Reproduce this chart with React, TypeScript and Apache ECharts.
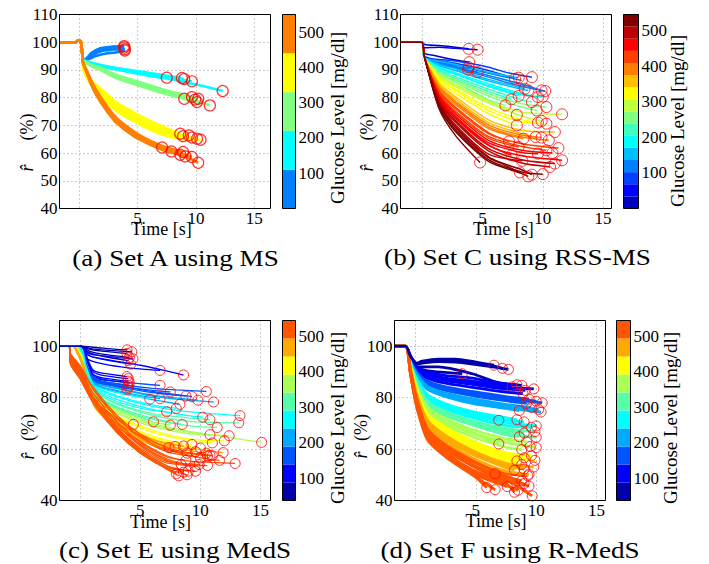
import React, { useEffect, useRef } from 'react';
import * as echarts from 'echarts';

type Pt = [number, number];
const FONT = '"Liberation Serif", "Times New Roman", Times, serif';

// ---------------- tick labels ----------------
const timeTicks = [5, 10, 15];
const rTicksTop = [40, 50, 60, 70, 80, 90, 100, 110];
const rTicksBottom = [40, 60, 80, 100];
const glucoseTicks = [100, 200, 300, 400, 500];

// ---------------- colour maps ----------------
const colorsA = ['#0080ff', '#00ffff', '#80ff80', '#ffff00', '#ff8000'];
const colorsB = ['#0000bf', '#0000ff', '#0040ff', '#0080ff', '#00bfff', '#00ffff', '#40ffbf', '#80ff80', '#bfff40', '#ffff00', '#ffbf00', '#ff8000', '#ff4000', '#ff0000', '#bf0000', '#800000'];
const colorsCD = ['#0000aa', '#0000ff', '#0055ff', '#00aaff', '#00ffff', '#55ffaa', '#aaff55', '#ffff00', '#ffaa00', '#ff5500'];

const cbRangeA: Pt = [0, 550];
const cbRangeB: Pt = [0, 545];
const cbRangeC: Pt = [37, 544];
const cbRangeD: Pt = [37, 544];

const xRangeA: Pt = [-1.7, 16.4];
const xRangeB: Pt = [-1.8, 15.7];
const xRangeC: Pt = [-1.72, 15.84];
const xRangeD: Pt = [-1.74, 15.74];

// ---------------- (a) Set A using MS ----------------
const prefixA: Pt[] = [[-1.7, 100], [-0.3, 100], [-0.1, 100.6], [0.12, 100.3], [0.25, 96]];
const glucoseA = [60, 80, 95, 70, 150, 170, 190, 130, 200, 250, 270, 290, 300, 310, 240, 350, 370, 390, 410, 420, 430, 460, 480, 500, 510, 520, 530, 540];
const curvesA: Pt[][] = [
  [[0.3, 93.8], [0.5, 93.6], [1.0, 96.0], [1.8, 97.8], [2.8, 98.4], [3.85, 98.6]],
  [[0.3, 93.8], [0.6, 93.8], [1.2, 95.6], [2.0, 96.9], [3.0, 97.4], [3.9, 97.5]],
  [[0.3, 93.8], [0.55, 94.0], [0.9, 95.3], [1.6, 96.9], [2.6, 97.8], [3.85, 98.1]],
  [[0.3, 93.8], [0.6, 93.7], [1.4, 95.0], [2.4, 96.0], [3.1, 96.3], [3.9, 97.0]],
  [[0.3, 93.8], [1.8, 91.8], [4.66, 89.6], [6.1, 88.6], [7.5, 87.2], [8.94, 85.6], [10.4, 84.4], [12.3, 82.4]],
  [[0.3, 93.8], [1.8, 91.5], [4.6, 89.3], [6.1, 88.3], [7.5, 87.2]],
  [[0.3, 93.8], [1.8, 91.6], [4.6, 89.8], [6.5, 88.6], [8.8, 87.1]],
  [[0.3, 93.8], [1.8, 91.3], [4.6, 89.2], [6.5, 88.0], [9.0, 86.7]],
  [[0.3, 93.8], [1.8, 91.4], [4.6, 89.0], [7.0, 87.2], [9.66, 85.9]],
  [[0.3, 93.5], [1.2, 91.4], [1.8, 90.5], [3.2, 87.7], [4.7, 85.6], [6.1, 83.8], [7.5, 82.0], [9.0, 79.6]],
  [[0.3, 93.5], [1.2, 91.6], [1.8, 90.8], [3.2, 88.2], [4.7, 86.2], [6.1, 84.4], [7.5, 82.6], [9.0, 81.0], [9.66, 80.2]],
  [[0.3, 93.5], [1.2, 91.2], [1.8, 90.2], [3.2, 87.3], [4.7, 85.2], [6.1, 83.3], [7.5, 81.6], [9.0, 80.0], [9.94, 79.3]],
  [[0.3, 93.5], [1.2, 91.0], [1.8, 90.0], [3.2, 87.0], [4.7, 84.9], [6.1, 83.0], [7.5, 81.2], [9.0, 79.6], [10.1, 78.4]],
  [[0.3, 93.5], [1.2, 91.3], [1.8, 90.4], [3.2, 87.6], [4.7, 85.5], [6.1, 83.6], [7.5, 81.8], [9.0, 80.0], [10.2, 78.6], [11.2, 77.2]],
  [[0.3, 93.5], [1.2, 91.5], [1.8, 90.7], [3.2, 88.0], [4.7, 86.0], [6.1, 84.2], [7.5, 82.3], [9.0, 80.6], [10.2, 79.6]],
  [[0.3, 92.5], [0.4, 90.5], [0.94, 86.6], [1.8, 83.4], [3.2, 78.2], [4.7, 74.6], [6.1, 71.6], [7.5, 69.0], [8.66, 67.0]],
  [[0.3, 92.5], [0.4, 90.5], [0.94, 86.2], [1.8, 82.6], [3.2, 77.2], [4.7, 73.6], [6.1, 70.6], [7.5, 68.2], [8.9, 66.1]],
  [[0.3, 92.5], [0.4, 90.0], [0.94, 85.8], [1.8, 82.0], [3.2, 76.4], [4.7, 72.8], [6.1, 69.8], [7.5, 67.4], [8.6, 66.4], [9.4, 66.4]],
  [[0.3, 92.5], [0.4, 90.0], [0.94, 85.5], [1.8, 81.6], [3.2, 76.0], [4.7, 72.3], [6.1, 69.2], [7.5, 67.0], [8.8, 65.8], [9.66, 65.6]],
  [[0.3, 92.5], [0.4, 90.0], [0.94, 85.3], [1.8, 81.2], [3.2, 75.6], [4.7, 71.8], [6.1, 68.8], [7.5, 66.6], [9.0, 65.4], [10.1, 65.2]],
  [[0.3, 92.5], [0.4, 89.6], [0.94, 85.0], [1.8, 80.8], [3.2, 75.2], [4.7, 71.4], [6.1, 68.4], [7.5, 66.2], [9.2, 64.9], [10.4, 64.8]],
  [[0.3, 93], [0.66, 89.6], [1.23, 84.4], [1.8, 80.4], [2.5, 76.2], [3.2, 72.6], [4.7, 67.8], [6.1, 64.2], [7.1, 62.0]],
  [[0.3, 93], [0.66, 89.2], [1.23, 83.8], [1.8, 79.6], [2.5, 75.4], [3.2, 71.8], [4.7, 67.0], [6.1, 64.0], [7.9, 60.6]],
  [[0.3, 93], [0.66, 89.0], [1.23, 83.4], [1.8, 79.2], [2.5, 75.0], [3.2, 71.4], [4.7, 66.6], [6.1, 63.6], [7.5, 61.2], [8.66, 59.4]],
  [[0.3, 93], [0.66, 89.4], [1.23, 84.0], [1.8, 80.0], [2.5, 75.8], [3.2, 72.2], [4.7, 67.4], [6.1, 64.4], [7.5, 62.0], [8.9, 60.4]],
  [[0.3, 93], [0.66, 88.8], [1.23, 83.2], [1.8, 79.0], [2.5, 74.8], [3.2, 71.2], [4.7, 66.4], [6.1, 63.4], [7.5, 61.0], [9.1, 58.8]],
  [[0.3, 93], [0.66, 88.8], [1.23, 83.0], [1.8, 78.8], [2.5, 74.6], [3.2, 71.0], [4.7, 66.2], [6.1, 63.2], [7.5, 60.8], [8.9, 59.6], [9.66, 58.6]],
  [[0.3, 93], [0.66, 88.6], [1.23, 82.8], [1.8, 78.6], [2.5, 74.4], [3.2, 70.8], [4.7, 66.0], [6.1, 63.0], [7.5, 60.6], [8.94, 59.0], [10.2, 56.5]],
];

// ---------------- (b) Set C using RSS-MS ----------------
const prefixB: Pt[] = [[-1.8, 100], [-0.2, 100], [0, 100]];
const glucoseB = [20, 45, 30, 50, 60, 75, 80, 95, 110, 120, 130, 150, 160, 180, 200, 215, 230, 250, 265, 240, 285, 300, 278, 320, 335, 355, 370, 390, 400, 412, 420, 435, 440, 455, 460, 470, 490, 500, 510, 520, 535, 525, 140, 195, 310, 380, 445, 480, 540];
const curvesB: Pt[][] = [
  [[0.2, 99.2], [1.4, 98.8], [2.75, 98.2], [3.86, 97.6]],
  [[0.2, 98], [1.4, 98.2], [2.75, 97.8], [4.6, 97.3]],
  [[0.2, 96], [1.0, 95.2], [2.0, 94.2], [3.0, 93.4], [3.9, 92.8]],
  [[0.2, 95], [1.0, 93.8], [2.0, 92.5], [3.0, 91.6], [3.86, 91.0]],
  [[0.2, 94.5], [1.0, 93.0], [2.0, 91.6], [3.0, 90.8], [3.8, 90.1]],
  [[0.2, 94.5], [1.2, 93.0], [2.5, 91.4], [3.6, 90.0], [4.6, 89.2]],
  [[0.2, 94.5], [1.4, 93.8], [2.75, 93.2], [5.5, 91.0], [6.9, 89.2], [8.26, 88.0], [9.1, 87.4]],
  [[0.2, 94.5], [1.4, 93.4], [2.75, 92.4], [5.5, 89.8], [7.7, 86.8]],
  [[0.2, 94.5], [1.4, 93.0], [2.75, 91.8], [5.5, 88.8], [8.26, 86.2]],
  [[0.2, 94.5], [1.4, 92.6], [2.75, 91.2], [5.5, 88.0], [8.26, 84.8], [9.9, 82.6]],
  [[0.2, 94.5], [1.4, 92.4], [2.75, 90.8], [5.5, 87.4], [8.26, 84.0], [10.2, 82.4]],
  [[0.2, 94.5], [1.4, 92.0], [2.75, 90.4], [5.5, 86.6], [8.26, 83.6], [8.5, 83.2]],
  [[0.2, 94.5], [1.4, 91.6], [2.75, 89.8], [5.5, 86.0], [8.26, 83.0], [8.8, 82.6]],
  [[0.2, 94.5], [1.4, 91.0], [2.75, 89.0], [5.5, 85.0], [8.26, 81.4], [9.6, 80.2]],
  [[0.2, 94.5], [1.4, 90.6], [2.75, 88.4], [5.5, 84.0], [7.0, 82.0], [8.0, 80.6]],
  [[0.2, 94.5], [1.4, 90.0], [2.75, 87.6], [5.5, 83.0], [8.26, 79.2], [9.1, 78.4]],
  [[0.2, 94.5], [1.4, 89.6], [2.75, 87.0], [5.5, 82.2], [7.4, 79.4]],
  [[0.2, 94.5], [1.4, 89.0], [2.75, 86.2], [5.5, 80.6], [8.26, 76.6], [9.5, 75.4]],
  [[0.2, 94.5], [1.4, 88.6], [2.75, 85.6], [5.5, 79.2], [6.9, 77.2]],
  [[0.2, 94.5], [1.4, 89.2], [2.75, 86.6], [5.5, 81.4], [8.26, 77.8], [10.3, 76.6]],
  [[0.2, 94.5], [1.4, 88.0], [2.75, 84.6], [5.5, 78.6], [8.26, 74.8], [10.0, 74.2], [11.6, 74.0]],
  [[0.2, 94.5], [1.4, 87.6], [2.75, 84.0], [5.5, 78.0], [8.26, 73.4], [9.9, 71.6]],
  [[0.2, 94.5], [1.4, 88.2], [2.75, 84.8], [5.5, 78.8], [7.85, 73.8]],
  [[0.2, 94.5], [1.4, 86.6], [2.75, 82.6], [5.5, 75.4], [8.26, 71.2], [10.3, 70.6]],
  [[0.2, 94.5], [1.4, 86.0], [2.75, 81.6], [5.5, 74.2], [7.85, 70.0]],
  [[0.2, 94.5], [1.4, 85.2], [2.75, 80.4], [5.5, 72.0], [8.26, 68.2], [11.0, 67.6]],
  [[0.2, 94.5], [1.4, 84.6], [2.75, 79.6], [5.5, 71.0], [8.26, 67.0], [9.4, 65.8]],
  [[0.2, 94.5], [1.4, 83.6], [2.75, 78.2], [5.5, 69.4], [8.26, 65.8], [10.5, 64.6]],
  [[0.2, 94.5], [1.4, 83.0], [2.75, 77.6], [5.5, 68.8], [8.4, 65.2]],
  [[0.2, 94.5], [1.4, 82.4], [2.75, 76.6], [5.5, 67.4], [7.2, 64.2]],
  [[0.2, 94.5], [1.4, 82.0], [2.75, 76.0], [5.5, 67.0], [8.26, 63.4], [11.3, 61.8]],
  [[0.2, 94.5], [1.4, 81.4], [2.75, 75.2], [5.5, 66.0], [8.26, 62.4], [10.3, 61.0]],
  [[0.2, 94.5], [1.4, 81.2], [2.75, 74.8], [5.5, 65.4], [8.0, 62.2]],
  [[0.2, 94.5], [1.4, 80.4], [2.75, 73.4], [5.5, 63.8], [8.26, 60.2], [9.6, 59.8]],
  [[0.2, 94.5], [1.4, 80.2], [2.75, 73.0], [5.5, 63.0], [7.4, 59.2]],
  [[0.2, 94.5], [1.4, 79.8], [2.75, 72.6], [5.5, 62.8], [8.26, 59.0], [11.6, 57.4]],
  [[0.2, 94.5], [1.4, 78.8], [2.75, 71.2], [5.5, 60.8], [8.26, 56.4], [10.6, 55.0]],
  [[0.2, 94.5], [1.4, 78.2], [2.75, 70.2], [5.5, 59.6], [8.3, 57.2]],
  [[0.2, 94.5], [1.4, 78.0], [2.75, 69.8], [5.5, 58.6], [7.0, 55.4], [8.1, 53.0]],
  [[0.2, 94.5], [1.4, 77.6], [2.75, 69.2], [5.5, 58.4], [8.26, 54.0], [9.1, 52.2]],
  [[0.2, 94.5], [1.4, 77.0], [2.75, 68.4], [5.5, 57.6], [8.26, 53.2], [10.0, 52.4]],
  [[0.2, 94.5], [1.4, 76.0], [2.75, 66.4], [4.8, 56.6]],
  [[0.2, 94.5], [1.4, 93.2], [2.75, 92.0], [5.5, 89.2], [8.0, 87.2]],
  [[0.2, 94.5], [1.4, 90.8], [2.75, 88.6], [5.5, 84.4], [8.26, 81.0], [10.0, 80.4]],
  [[0.2, 94.5], [1.4, 87.2], [2.75, 83.2], [5.5, 76.4], [8.26, 72.0], [9.6, 71.0]],
  [[0.2, 94.5], [1.4, 84.0], [2.75, 78.8], [5.5, 70.2], [8.26, 66.4], [9.9, 65.6]],
  [[0.2, 94.5], [1.4, 80.8], [2.75, 74.2], [5.5, 64.6], [8.26, 61.0], [10.8, 60.0]],
  [[0.2, 94.5], [1.4, 79.2], [2.75, 71.8], [5.5, 61.6], [8.26, 57.6], [11.0, 56.2]],
  [[0.2, 94.5], [1.4, 76.6], [2.75, 67.8], [5.5, 57.0], [8.26, 52.6], [8.8, 51.6]],
];

// ---------------- (c) Set E using MedS ----------------
const prefixC: Pt[] = [[-1.72, 100], [-1.0, 100]];
const glucoseC = [50, 60, 70, 80, 95, 100, 110, 130, 150, 160, 120, 145, 170, 180, 200, 220, 230, 260, 270, 285, 310, 320, 335, 360, 380, 350, 410, 430, 420, 460, 480, 455, 470, 490, 500, 510, 520, 530, 505, 515, 525, 498,
  105, 125, 140, 165, 175, 195, 250, 300, 340, 370, 400, 440, 450, 465, 475, 495, 508, 512, 518, 522, 528, 535, 502, 240, 90, 60];
const curvesC: Pt[][] = [
  [[0, 100], [1.5, 99.4], [3.0, 98.8], [3.9, 98.6]],
  [[0, 100], [0.8, 98.8], [2.0, 98.0], [3.9, 97.2]],
  [[0, 100], [0.8, 98.0], [2.0, 96.8], [4.1, 95.6]],
  [[0, 100], [0.8, 97.4], [2.0, 96.0], [4.0, 94.4]],
  [[0, 100], [0.8, 97.0], [2.0, 96.2], [3.2, 95.6], [4.4, 95.1]],
  [[0, 100], [0.6, 96.6], [2.0, 95.0], [5.0, 92.6], [7.0, 90.6], [8.6, 88.8]],
  [[0.1, 100], [0.7, 94], [1.1, 90.6], [2.0, 89.4], [3.9, 88.2]],
  [[0.1, 100], [0.7, 93], [1.1, 89.0], [2.0, 87.6], [4.0, 86.4]],
  [[0, 100], [0.6, 92], [1.1, 87.6], [2.0, 86.2], [4.0, 84.8]],
  [[0, 100], [0.6, 91], [1.1, 86.2], [2.5, 85.0], [3.9, 83.2]],
  [[0, 100], [0.6, 95], [2.0, 93.0], [4.0, 91.6], [6.65, 90.6]],
  [[0, 100], [0.6, 92], [1.2, 87.6], [3.0, 86.4], [5.5, 85.2], [6.65, 84.8]],
  [[0, 100], [0.6, 91], [1.2, 87.0], [3.0, 85.4], [6.0, 83.6], [8.0, 83.0], [10.5, 82.4]],
  [[0, 100], [0.6, 91], [1.2, 86.6], [3.0, 85.0], [6.0, 82.4], [9.3, 80.4]],
  [[0, 100], [0.6, 90], [1.2, 85.6], [3.0, 83.6], [6.0, 80.6], [8.5, 79.2], [11.1, 78.3]],
  [[0, 100], [0.6, 89.5], [1.2, 85.0], [3.0, 82.4], [6.0, 79.2], [8.3, 77.4]],
  [[0, 100], [0.6, 89.5], [1.2, 85.2], [3.0, 82.8], [5.0, 80.8], [6.65, 79.6]],
  [[-0.2, 100], [0.5, 92], [1.2, 84.0], [3.0, 80.4], [6.0, 76.6], [9.0, 74.6], [13.3, 73.0]],
  [[-0.2, 100], [0.5, 92], [1.2, 83.6], [3.0, 79.4], [6.0, 75.4], [9.0, 73.0], [10.2, 72.4]],
  [[-0.2, 100], [0.5, 92], [1.2, 83.2], [3.0, 78.6], [5.5, 75.4], [7.2, 74.5]],
  [[-0.3, 100], [0.4, 93], [1.2, 82.6], [3.0, 77.6], [6.0, 73.2], [9.0, 70.8], [13.2, 70.2]],
  [[-0.3, 100], [0.4, 93], [1.2, 82.0], [3.0, 76.6], [6.0, 72.0], [8.5, 69.6]],
  [[-0.3, 100], [0.4, 93], [1.2, 81.4], [3.0, 75.8], [6.1, 70.6]],
  [[-0.4, 100], [0.3, 94], [1.2, 81.0], [3.0, 75.0], [6.0, 70.0], [9.0, 67.0], [12.0, 64.8], [15.1, 62.6]],
  [[-0.4, 100], [0.3, 94], [1.2, 80.4], [3.0, 74.0], [6.0, 68.8], [9.0, 66.0], [12.4, 65.2]],
  [[-0.4, 100], [0.3, 94], [1.2, 81.2], [3.0, 75.4], [6.0, 70.6], [7.5, 69.3]],
  [[-0.5, 100], [0.2, 95], [1.2, 79.4], [3.0, 72.6], [6.0, 66.6], [9.0, 63.4], [11.0, 62.4]],
  [[-0.5, 100], [0.2, 95], [1.2, 78.6], [3.0, 71.4], [6.0, 65.0], [8.0, 62.6], [9.3, 61.8]],
  [[-0.5, 100], [0.2, 95], [1.2, 78.8], [3.0, 71.8], [4.43, 69.6]],
  [[-0.6, 100], [-0.2, 97], [0.3, 92], [1.2, 77.4], [3.0, 70.0], [6.0, 63.0], [9.0, 59.6], [10.5, 58.4]],
  [[-0.6, 100], [-0.2, 97], [0.3, 91], [1.2, 76.4], [3.0, 68.6], [6.0, 61.4], [8.0, 58.8], [8.9, 58.4]],
  [[-0.6, 100], [-0.2, 98], [0.3, 92.4], [1.2, 77.8], [3.0, 70.4], [6.0, 63.6], [9.0, 60.6], [11.9, 58.6]],
  [[-0.6, 100], [-0.2, 99], [0.3, 92], [1.2, 78.0], [3.0, 70.8], [6.0, 64.0], [7.9, 61.0]],
  [[-0.6, 100], [0, 96], [0.5, 88], [1.2, 78.4], [3.0, 70.4], [6.0, 62.2], [9.0, 58.4], [10.6, 57.2]],
  [[-0.9, 100], [-0.8, 96], [0, 91], [1.1, 82], [3.05, 71], [5.0, 63], [7.2, 57.4], [8.9, 55.4], [11.0, 54.8], [12.9, 54.4]],
  [[-0.9, 100], [-0.8, 95], [0, 90], [1.1, 80.6], [3.05, 69.4], [5.0, 61.6], [7.2, 55.6], [8.4, 54.0]],
  [[-0.9, 100], [-0.8, 94], [0, 89], [1.1, 79.4], [3.05, 68.0], [5.0, 58.8], [7.2, 52.8], [8.0, 50.4]],
  [[-0.9, 100], [-0.8, 93], [0, 87.6], [1.1, 78.2], [3.05, 66.8], [5.0, 58.6], [7.2, 52.4], [8.9, 50.0]],
  [[-0.9, 100], [-0.8, 96], [0, 91.5], [1.1, 83], [3.05, 72], [5.0, 64.4], [7.2, 59.0], [9.5, 57.0], [11.6, 55.6]],
  [[-0.9, 100], [-0.8, 95], [0, 90.4], [1.1, 81], [3.05, 70], [5.0, 62], [7.2, 56.2], [9.56, 53.2]],
  [[-0.9, 100], [-0.8, 94], [0, 88.5], [1.1, 79], [3.05, 67.5], [5.0, 59.5], [7.2, 53.6], [9.0, 51.4]],
  [[-0.9, 100], [-0.8, 97], [0, 92], [1.1, 83.6], [3.05, 72.6], [5.0, 65.2], [7.2, 60.0], [10.0, 56.6]],
  [[0.1, 100], [0.7, 93.6], [1.1, 90.0], [2.0, 88.6], [4.0, 87.4]],
  [[0.1, 100], [0.7, 92.6], [1.1, 88.6], [2.0, 87.0], [4.1, 85.8]],
  [[0, 100], [0.6, 91.6], [1.1, 87.0], [2.0, 85.6], [4.0, 84.0]],
  [[0, 100], [0.6, 91], [1.2, 86.8], [3.0, 84.8], [6.0, 82.8], [7.5, 82.2]],
  [[0, 100], [0.6, 90.5], [1.2, 86.2], [3.0, 84.4], [6.0, 82.0], [8.8, 80.6]],
  [[0, 100], [0.6, 90], [1.2, 85.8], [3.0, 83.8], [6.0, 81.0], [9.8, 79.0]],
  [[-0.2, 100], [0.5, 92], [1.2, 84.4], [3.0, 80.8], [6.0, 77.2], [8.0, 75.8]],
  [[-0.3, 100], [0.4, 93], [1.2, 82.8], [3.0, 78.0], [6.0, 73.8], [10.8, 71.4]],
  [[-0.3, 100], [0.4, 93], [1.2, 81.6], [3.0, 76.2], [6.0, 71.6], [9.5, 68.8], [11.4, 68.4]],
  [[-0.4, 100], [0.3, 94], [1.2, 80.6], [3.0, 74.4], [6.0, 69.4], [9.0, 66.6], [10.8, 65.6]],
  [[-0.5, 100], [0.2, 95], [1.2, 79.8], [3.0, 73.0], [6.0, 67.4], [9.0, 64.0], [12.0, 63.2]],
  [[-0.5, 100], [0.2, 95], [1.2, 78.2], [3.0, 70.8], [6.0, 64.4], [9.0, 61.0], [10.0, 60.4]],
  [[-0.6, 100], [-0.2, 98], [0.3, 92.6], [1.2, 78.0], [3.0, 70.6], [6.0, 63.8], [8.6, 61.2]],
  [[-0.6, 100], [-0.2, 97], [0.3, 91.6], [1.2, 77.0], [3.0, 69.4], [6.0, 62.4], [9.6, 59.0]],
  [[-0.6, 100], [-0.2, 97], [0.3, 91.2], [1.2, 76.6], [3.0, 69.0], [6.0, 61.8], [7.4, 60.6]],
  [[-0.9, 100], [-0.8, 97], [0, 92.4], [1.1, 84], [3.05, 73.2], [5.0, 65.8], [7.2, 60.6], [9.0, 58.6], [11.0, 57.4]],
  [[-0.9, 100], [-0.8, 96], [0, 90.8], [1.1, 81.6], [3.05, 70.6], [5.0, 62.6], [7.2, 57.0], [8.8, 55.6]],
  [[-0.9, 100], [-0.8, 95], [0, 90.2], [1.1, 80.4], [3.05, 69.6], [5.0, 61.2], [7.2, 55.2], [9.9, 54.0]],
  [[-0.9, 100], [-0.8, 94.6], [0, 89.6], [1.1, 79.8], [3.05, 68.6], [5.0, 60.4], [7.2, 54.6], [10.6, 53.6]],
  [[-0.9, 100], [-0.8, 94.4], [0, 89.2], [1.1, 79.2], [3.05, 68.2], [5.0, 59.8], [7.2, 53.4], [8.6, 51.0]],
  [[-0.9, 100], [-0.8, 93.4], [0, 88.0], [1.1, 78.6], [3.05, 67.2], [5.0, 59.0], [7.2, 52.8], [9.6, 51.4]],
  [[-0.9, 100], [-0.8, 93], [0, 87.2], [1.1, 77.8], [3.05, 66.4], [5.0, 58.4], [7.2, 52.2], [8.2, 49.6]],
  [[-0.9, 100], [-0.8, 96.6], [0, 91.8], [1.1, 83.2], [3.05, 72.2], [5.0, 64.8], [7.2, 59.6], [10.8, 57.6]],
  [[0, 100], [0.6, 89], [1.2, 84.6], [3.0, 82.0], [5.8, 79.4]],
  [[0, 100], [0.8, 96.2], [2.0, 94.8], [4.2, 93.0]],
  [[0, 100], [1.0, 99.0], [2.5, 98.4], [4.3, 97.8]],
];

// ---------------- (d) Set F using R-MedS ----------------
const prefixD: Pt[] = [[-1.74, 100], [-0.83, 100]];
const glucoseD = [50, 60, 70, 80, 100, 120, 150, 170, 210, 230, 260, 280, 270, 310, 330, 360, 380, 410, 430, 460, 480, 505, 520, 530, 515, 540, 495,
  90, 110, 130, 160, 180, 200, 220, 250, 285, 300, 320, 350, 370, 390, 400, 420, 440, 450, 470, 490, 500, 510, 525, 535, 60];
const curvesD: Pt[][] = [
  [[-0.4, 96], [0.1, 93.2], [0.55, 93.8], [1.9, 94.5], [3.3, 94.5], [6.1, 92.6], [7.2, 91.4]],
  [[-0.4, 96], [0.1, 93.0], [0.55, 93.4], [1.9, 94.0], [3.3, 93.8], [6.1, 92.2], [7.7, 91.0]],
  [[-0.4, 95], [0.1, 92.0], [1.0, 90.4], [2.5, 89.8], [3.87, 89.3]],
  [[-0.4, 95], [0.1, 92.0], [1.9, 92.0], [4.7, 89.3], [6.9, 85.8], [8.8, 84.8]],
  [[-0.4, 95], [0.1, 91.5], [1.0, 89.2], [2.5, 87.6], [4.7, 86.4], [7.0, 85.0], [8.0, 84.2]],
  [[-0.4, 95], [0.1, 91.0], [1.0, 88.4], [2.5, 86.6], [4.7, 85.2], [7.0, 83.6], [9.1, 82.8]],
  [[-0.4, 94], [0.1, 90], [1.0, 86.4], [2.5, 84.2], [4.7, 82.4], [7.46, 80.4], [9.4, 79.4]],
  [[-0.4, 94], [0.1, 90], [1.0, 85.6], [2.5, 83.2], [4.7, 81.4], [7.46, 79.6], [10.5, 78.0]],
  [[-0.4, 93.5], [0.1, 89], [1.0, 84], [2.5, 81.4], [4.7, 79.2], [7.46, 77.0], [10.2, 75.4]],
  [[-0.4, 93.5], [0.1, 88.5], [1.0, 83.2], [2.5, 80.4], [4.7, 77.8], [7.46, 75.8], [8.6, 75.0]],
  [[-0.4, 93], [0.1, 87], [1.0, 80.6], [2.5, 77.0], [4.7, 74.0], [7.46, 71.4], [9.0, 70.6]],
  [[-0.4, 93], [0.1, 86.5], [1.0, 80.0], [2.5, 76.2], [4.7, 73.0], [6.9, 71.2]],
  [[-0.4, 93], [0.1, 86.8], [1.0, 80.2], [2.5, 76.6], [4.7, 73.4], [7.46, 70.4], [10.0, 69.0]],
  [[-0.4, 92.5], [0.1, 85.5], [1.0, 78.0], [2.5, 74.0], [4.7, 70.4], [7.46, 67.2], [9.0, 66.2]],
  [[-0.4, 92.5], [0.1, 85], [1.0, 77.2], [2.5, 73.0], [4.7, 69.4], [7.46, 65.6], [8.6, 64.8]],
  [[-0.4, 92], [0.1, 84], [1.0, 75.6], [2.5, 71.2], [4.7, 66.4], [6.9, 62.0]],
  [[-0.4, 92], [0.1, 83.5], [1.0, 75.0], [2.5, 70.4], [4.7, 66.0], [7.46, 62.8], [9.5, 61.0]],
  [[-0.4, 91.5], [0.1, 82.5], [1.0, 73.0], [2.5, 67.8], [4.7, 62.4], [7.46, 57.8], [9.0, 56.6]],
  [[-0.4, 91.5], [0.1, 82], [1.0, 72.2], [2.5, 66.6], [4.7, 61.0], [7.46, 56.4], [8.4, 55.4]],
  [[-0.4, 91], [0.1, 81], [1.0, 70.6], [2.5, 64.6], [4.7, 58.6], [7.46, 53.6], [9.0, 52.2]],
  [[-0.4, 91], [0.1, 80.5], [1.0, 69.8], [2.5, 63.6], [4.7, 55.6], [6.6, 50.4]],
  [[-0.4, 90], [0.1, 79.0], [1.0, 66.8], [2.5, 60.4], [4.7, 54.0], [7.46, 48.2], [9.67, 41.8]],
  [[-0.4, 89.5], [0.1, 78.0], [1.0, 65.6], [2.5, 59.0], [4.7, 50.4], [5.9, 45.0]],
  [[-0.4, 89], [0.1, 77.0], [1.0, 64.4], [2.5, 57.8], [4.7, 51.2], [7.46, 46.0], [8.5, 44.0]],
  [[-0.4, 89.5], [0.1, 78.4], [1.0, 66.2], [2.5, 59.8], [4.7, 53.4], [7.46, 47.6], [9.0, 46.6]],
  [[-0.4, 88.5], [0.1, 76.4], [1.0, 63.6], [2.5, 57.0], [4.7, 50.0], [6.6, 44.2]],
  [[-0.4, 90], [0.1, 79.4], [1.0, 67.4], [2.5, 61.2], [4.7, 55.2], [7.46, 50.6], [9.3, 49.6]],
  [[-0.4, 95], [0.1, 91.8], [1.0, 89.8], [2.5, 88.6], [4.7, 87.6], [7.0, 85.6], [8.4, 85.0]],
  [[-0.4, 95], [0.1, 91.2], [1.0, 88.8], [2.5, 87.0], [4.7, 85.8], [7.0, 84.2], [9.8, 83.4]],
  [[-0.4, 94.5], [0.1, 90.6], [1.0, 87.6], [2.5, 85.6], [4.7, 84.0], [7.46, 82.2], [8.9, 81.6]],
  [[-0.4, 94], [0.1, 90], [1.0, 86.0], [2.5, 83.8], [4.7, 81.8], [7.46, 80.0], [10.0, 78.6]],
  [[-0.4, 94], [0.1, 89.6], [1.0, 85.2], [2.5, 82.8], [4.7, 80.8], [7.46, 78.8], [9.2, 77.8]],
  [[-0.4, 93.8], [0.1, 89.2], [1.0, 84.4], [2.5, 81.8], [4.7, 79.6], [7.46, 77.4], [9.6, 76.2]],
  [[-0.4, 93.6], [0.1, 88.8], [1.0, 83.6], [2.5, 80.8], [4.7, 78.4], [7.46, 76.2], [10.4, 74.4]],
  [[-0.4, 93.2], [0.1, 87.4], [1.0, 81.2], [2.5, 77.6], [4.7, 74.6], [7.46, 72.2], [8.4, 71.4]],
  [[-0.4, 93], [0.1, 86.2], [1.0, 79.4], [2.5, 75.6], [4.7, 72.2], [7.46, 69.2], [9.6, 68.4]],
  [[-0.4, 92.6], [0.1, 85.8], [1.0, 78.6], [2.5, 74.6], [4.7, 71.0], [7.46, 68.0], [9.9, 66.8]],
  [[-0.4, 92.5], [0.1, 85.2], [1.0, 77.6], [2.5, 73.4], [4.7, 69.8], [7.46, 66.2], [10.0, 64.6]],
  [[-0.4, 92.2], [0.1, 84.4], [1.0, 76.2], [2.5, 71.8], [4.7, 67.6], [7.46, 64.0], [9.2, 62.8]],
  [[-0.4, 92], [0.1, 83.8], [1.0, 75.2], [2.5, 70.6], [4.7, 66.4], [7.46, 62.6], [10.0, 60.6]],
  [[-0.4, 91.8], [0.1, 83.2], [1.0, 74.2], [2.5, 69.4], [4.7, 64.8], [7.46, 60.8], [8.8, 59.8]],
  [[-0.4, 91.6], [0.1, 82.8], [1.0, 73.6], [2.5, 68.4], [4.7, 63.2], [7.46, 58.6], [9.6, 57.4]],
  [[-0.4, 91.5], [0.1, 82.2], [1.0, 72.6], [2.5, 67.2], [4.7, 61.6], [7.46, 57.0], [9.9, 55.6]],
  [[-0.4, 91.2], [0.1, 81.6], [1.0, 71.6], [2.5, 65.8], [4.7, 60.0], [7.46, 55.2], [8.8, 54.0]],
  [[-0.4, 91.2], [0.1, 81.4], [1.0, 71.2], [2.5, 65.2], [4.7, 59.4], [7.46, 54.4], [9.8, 53.0]],
  [[-0.4, 91], [0.1, 80.8], [1.0, 70.2], [2.5, 64.0], [4.7, 58.0], [7.46, 52.8], [8.2, 51.8]],
  [[-0.4, 90.6], [0.1, 80.0], [1.0, 69.0], [2.5, 62.8], [4.7, 56.6], [7.46, 51.4], [9.4, 50.2]],
  [[-0.4, 90.2], [0.1, 79.6], [1.0, 67.8], [2.5, 61.6], [4.7, 55.6], [7.46, 49.6], [8.8, 47.6]],
  [[-0.4, 89.8], [0.1, 78.8], [1.0, 66.6], [2.5, 60.2], [4.7, 53.8], [7.46, 48.8], [9.4, 45.6]],
  [[-0.4, 89.2], [0.1, 77.6], [1.0, 65.0], [2.5, 58.4], [4.7, 52.0], [7.46, 46.8], [8.2, 43.2]],
  [[-0.4, 88.8], [0.1, 76.8], [1.0, 64.0], [2.5, 57.4], [4.7, 50.6], [6.5, 47.2], [7.6, 45.4]],
  [[-0.4, 96], [0.1, 93.4], [0.55, 94.2], [1.9, 95.0], [3.3, 95.0], [5.0, 93.8], [6.5, 92.6]],
];

const panelTitles = ['(a) Set A using MS', '(b) Set C using RSS-MS', '(c) Set E using MedS', '(d) Set F using R-MedS'];

// ---------------- layout (pixels) ----------------
type Box = { left: number; top: number; width: number; height: number };
interface Panel {
  grid: Box; cb: Box; xRange: Pt; yInterval: number; yTicks: number[];
  cbRange: Pt; colors: string[]; prefix: Pt[]; glucose: number[]; curves: Pt[][];
  lineWidth: number; circleWidth: number; circleSize: number; title: string;
  titlePos: Pt; timePos: Pt; rhatPos: Pt; pctPos: Pt; cbLabelPos: Pt;
}

const panels: Panel[] = [
  {
    grid: { left: 59.5, top: 14.5, width: 211, height: 194 }, cb: { left: 282.5, top: 14.5, width: 13, height: 194 },
    xRange: xRangeA, yInterval: 10, yTicks: rTicksTop, cbRange: cbRangeA, colors: colorsA,
    prefix: prefixA, glucose: glucoseA, curves: curvesA, lineWidth: 2.6, circleWidth: 1.2, circleSize: 11, title: panelTitles[0],
    titlePos: [175.5, 258], timePos: [161.3, 229], rhatPos: [27, 168], pctPos: [27, 127], cbLabelPos: [337, 118],
  },
  {
    grid: { left: 400.5, top: 14.5, width: 211, height: 194 }, cb: { left: 623.5, top: 14.5, width: 15, height: 194 },
    xRange: xRangeB, yInterval: 10, yTicks: rTicksTop, cbRange: cbRangeB, colors: colorsB,
    prefix: prefixB, glucose: glucoseB, curves: curvesB, lineWidth: 1.5, circleWidth: 1, circleSize: 11, title: panelTitles[1],
    titlePos: [517.5, 257], timePos: [503.3, 229], rhatPos: [367, 168], pctPos: [367, 127], cbLabelPos: [677, 121],
  },
  {
    grid: { left: 59.5, top: 320.5, width: 211, height: 180 }, cb: { left: 282.5, top: 320.5, width: 13, height: 180 },
    xRange: xRangeC, yInterval: 20, yTicks: rTicksBottom, cbRange: cbRangeC, colors: colorsCD,
    prefix: prefixC, glucose: glucoseC, curves: curvesC, lineWidth: 1.3, circleWidth: 1, circleSize: 10, title: panelTitles[2],
    titlePos: [175, 550.5], timePos: [160.5, 522], rhatPos: [28, 456], pctPos: [28, 427.5], cbLabelPos: [337, 418],
  },
  {
    grid: { left: 394.5, top: 320.5, width: 211, height: 180 }, cb: { left: 616.5, top: 320.5, width: 14, height: 180 },
    xRange: xRangeD, yInterval: 20, yTicks: rTicksBottom, cbRange: cbRangeD, colors: colorsCD,
    prefix: prefixD, glucose: glucoseD, curves: curvesD, lineWidth: 2.8, circleWidth: 1, circleSize: 10, title: panelTitles[3],
    titlePos: [510, 550.5], timePos: [496, 521], rhatPos: [361, 455], pctPos: [361, 427.5], cbLabelPos: [670, 418],
  },
];

const isTick = (v: number, ticks: number[]) => ticks.some((t) => Math.abs(t - v) < 1e-6);

function textEl(text: string, pos: Pt, size: number, rotate = false, italic = false, scaleX = 1) {
  return {
    type: 'text', x: pos[0], y: pos[1], rotation: rotate ? Math.PI / 2 : 0, scaleX, z: 200, silent: true,
    style: {
      text, fill: '#000', fontSize: size, fontFamily: FONT, fontStyle: italic ? 'italic' : 'normal',
      align: 'center', verticalAlign: 'middle', textAlign: 'center', textVerticalAlign: 'middle',
    },
  };
}

function buildOption() {
  const grids: any[] = [];
  const xAxes: any[] = [];
  const yAxes: any[] = [];
  const series: any[] = [];
  const graphics: any[] = [];

  panels.forEach((p, i) => {
    const gi = 2 * i;
    const ci = 2 * i + 1;
    grids.push({ ...p.grid, containLabel: false });
    grids.push({ ...p.cb, containLabel: false });

    xAxes.push({
      gridIndex: gi, type: 'value', min: p.xRange[0], max: p.xRange[1], splitNumber: 4,
      axisLine: { show: false }, axisTick: { show: false },
      splitLine: { show: true, lineStyle: { color: '#9a9a9a', type: [1, 3], width: 1 } },
      axisLabel: {
        formatter: (v: number) => (isTick(v, timeTicks) ? String(Math.round(v)) : ''),
        fontFamily: FONT, fontSize: 17, color: '#000', margin: 1,
      },
    });
    yAxes.push({
      gridIndex: gi, type: 'value', min: 40, max: 110, interval: p.yInterval,
      axisLine: { show: false }, axisTick: { show: false },
      splitLine: { show: true, lineStyle: { color: '#9a9a9a', type: [1, 3], width: 1 } },
      axisLabel: {
        formatter: (v: number) => (isTick(v, p.yTicks) ? String(Math.round(v)) : ''),
        fontFamily: FONT, fontSize: 17, color: '#000', margin: 2,
      },
    });
    xAxes.push({ gridIndex: ci, type: 'value', min: 0, max: 1, show: false });
    yAxes.push({
      gridIndex: ci, type: 'value', min: p.cbRange[0], max: p.cbRange[1], position: 'right', splitNumber: 5,
      axisLine: { show: false }, axisTick: { show: false }, splitLine: { show: false },
      axisLabel: {
        formatter: (v: number) => (isTick(v, glucoseTicks) ? String(Math.round(v)) : ''),
        fontFamily: FONT, fontSize: 17, color: '#000', margin: 3,
      },
    });

    const n = p.colors.length;
    const [cmin, cmax] = p.cbRange;
    const colorOf = (g: number) => p.colors[Math.max(0, Math.min(n - 1, Math.floor(((g - cmin) / (cmax - cmin)) * n)))];

    p.curves.forEach((c, j) => {
      const col = colorOf(p.glucose[j]);
      series.push({
        type: 'line', xAxisIndex: gi, yAxisIndex: gi, data: p.prefix.concat(c),
        showSymbol: false, symbol: 'none', smooth: 0.25, silent: true, z: 2,
        lineStyle: { color: col, width: p.lineWidth }, itemStyle: { color: col },
      });
    });
    series.push({
      type: 'scatter', xAxisIndex: gi, yAxisIndex: gi, silent: true, z: 5,
      data: p.curves.map((c) => c[c.length - 1]),
      symbol: 'circle', symbolSize: p.circleSize,
      itemStyle: { color: 'rgba(255,255,255,0)', borderColor: '#ff0000', borderWidth: p.circleWidth },
    });

    const step = (cmax - cmin) / n;
    const bands = p.colors.map((_, k) => [cmin + k * step, cmin + (k + 1) * step]);
    series.push({
      type: 'custom', xAxisIndex: ci, yAxisIndex: ci, data: bands, silent: true,
      renderItem: (params: any, api: any) => {
        const lo = api.value(0);
        const hi = api.value(1);
        const p0 = api.coord([0, lo]);
        const p1 = api.coord([1, hi]);
        return {
          type: 'rect',
          shape: { x: p0[0], y: p1[1], width: p1[0] - p0[0], height: p0[1] - p1[1] },
          style: { fill: p.colors[params.dataIndex], stroke: null },
        };
      },
    });

    [p.grid, p.cb].forEach((b) => {
      graphics.push({
        type: 'rect', z: 150, silent: true,
        shape: { x: b.left, y: b.top, width: b.width, height: b.height },
        style: { fill: 'none', stroke: '#000', lineWidth: 1 },
      });
    });

    graphics.push(textEl(p.title, p.titlePos, 23, false, false, 1.18));
    graphics.push(textEl('Time [s]', p.timePos, 18));
    graphics.push(textEl('r\u0302', p.rhatPos, 18, true, true));
    graphics.push(textEl('(%)', p.pctPos, 18, true));
    graphics.push(textEl('Glucose Level [mg/dl]', p.cbLabelPos, 19, true));
  });

  return {
    animation: false,
    backgroundColor: '#ffffff',
    grid: grids,
    xAxis: xAxes,
    yAxis: yAxes,
    series,
    graphic: { elements: graphics },
  };
}

export default function App() {
  const ref = useRef<HTMLDivElement>(null);
  useEffect(() => {
    if (!ref.current) return;
    const chart = echarts.init(ref.current, undefined, { renderer: 'svg' });
    chart.setOption(buildOption() as any);
    return () => chart.dispose();
  }, []);
  return (
    <div
      ref={ref}
      style={{ position: 'fixed', left: 0, top: 0, width: 709, height: 564, background: '#fff' }}
    />
  );
}
